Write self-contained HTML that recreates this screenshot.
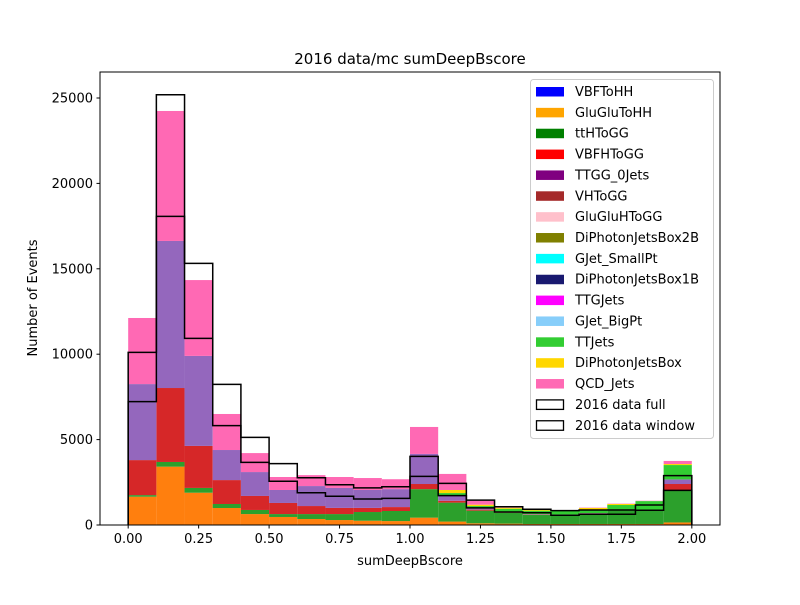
<!DOCTYPE html>
<html><head><meta charset="utf-8"><style>
body{margin:0;background:#fff;}
svg text{font-family:"DejaVu Sans","Liberation Sans",sans-serif;fill:#000;}
</style></head><body>
<svg id="chart" width="800" height="600" viewBox="0 0 800 600" xmlns="http://www.w3.org/2000/svg">
<rect width="800" height="600" fill="#fff"/>
<g id="stack"></g>
<g id="datalines"></g>
<rect x="100" y="72" width="620" height="453" fill="none" stroke="#000" stroke-width="1"/>
<g id="xticks"></g>
<g id="yticks"></g>
<text x="410" y="64" font-size="15" text-anchor="middle">2016 data/mc sumDeepBscore</text>
<text x="410" y="565" font-size="13" text-anchor="middle">sumDeepBscore</text>
<text x="37" y="298" font-size="13" text-anchor="middle" transform="rotate(-90 37 298)">Number of Events</text>
<g id="legend">
<rect x="530.5" y="79.5" width="183" height="359" rx="3" fill="#fff" fill-opacity="0.8" stroke="#ccc"/>
</g>
</svg>
<script>
const binEdgesStart = 0, binWidth = 0.1;
const orangeVals = [1657,3415,1890,995,640,470,350,290,250,230,430,200,100,80,60,60,60,60,60,150];
const greenVals  = [93,275,280,235,240,170,290,350,510,590,1670,1110,740,640,540,485,620,820,820,1860];
const redVals    = [2050,4330,2460,1400,820,650,470,360,240,230,300,110,60,20,20,55,10,10,10,390];
const purpleVals = [4450,8610,5270,1760,1400,760,1170,1170,1050,1050,1760,300,110,20,20,20,10,10,10,270];
const limeVals   = [0,0,0,0,0,0,0,0,0,0,0,150,100,190,200,200,200,270,500,840];
const goldVals   = [0,0,0,0,0,0,0,0,0,0,0,180,80,60,40,30,100,60,0,60];
const pinkVals   = [3870,7610,4440,2110,1110,760,640,640,700,580,1580,940,230,40,20,20,20,20,20,180];
const dataWindow = [7220,18070,10930,5820,3670,2560,1890,1680,1520,1560,2850,1720,1000,760,720,570,630,630,860,2030];
const dataFull   = [10110,25190,15320,8230,5130,3590,2770,2360,2170,2240,4020,2440,1460,1070,920,840,880,880,1170,2890];
const xTicks = [0,0.25,0.5,0.75,1.0,1.25,1.5,1.75,2.0];
const xTickLabels = ["0.00","0.25","0.50","0.75","1.00","1.25","1.50","1.75","2.00"];
const yTicks = [0,5000,10000,15000,20000,25000];
const legendNames = ["VBFToHH","GluGluToHH","ttHToGG","VBFHToGG","TTGG_0Jets","VHToGG","GluGluHToGG","DiPhotonJetsBox2B","GJet_SmallPt","DiPhotonJetsBox1B","TTGJets","GJet_BigPt","TTJets","DiPhotonJetsBox","QCD_Jets"];
const legendColors = ["blue","orange","green","red","purple","brown","pink","olive","cyan","midnightblue","magenta","lightskyblue","limegreen","gold","hotpink"];

const NS="http://www.w3.org/2000/svg";
const X = v => 100 + (v + 0.1) * (620/2.2);
const Y = v => 525 - v * (453/26522);
function mk(tag, attrs, parent){const e=document.createElementNS(NS,tag);for(const k in attrs)e.setAttribute(k,attrs[k]);parent.appendChild(e);return e;}

const layers=[[orangeVals,"#ff7f0e","orange"],[greenVals,"#2ca02c","green"],[redVals,"#d62728","red"],[purpleVals,"#9467bd","purple"],[limeVals,"#32cd32","lime"],[goldVals,"#ffd700","gold"],[pinkVals,"#ff69b4","pink"]];
const stack=document.getElementById('stack');
const base=new Array(orangeVals.length).fill(0);
layers.forEach(([vals,col,nm])=>{
  vals.forEach((v,i)=>{
    if(v<=0)return;
    const x0=X(binEdgesStart+i*binWidth), x1=X(binEdgesStart+(i+1)*binWidth);
    const r=mk('rect',{x:x0,y:Y(base[i]+v),width:x1-x0,height:Y(base[i])-Y(base[i]+v),fill:col},stack);
    
    
    base[i]+=v;
  });
});
const dl=document.getElementById('datalines');
[[dataFull,'data-full-step'],[dataWindow,'data-window-step']].forEach(([vals,nm])=>{
  let d='M'+X(0)+' '+Y(0);
  vals.forEach((v,i)=>{d+=' L'+X(i*binWidth)+' '+Y(v)+' L'+X((i+1)*binWidth)+' '+Y(v);});
  d+=' L'+X(vals.length*binWidth)+' '+Y(0);
  const p=mk('path',{d:d,fill:'none',stroke:'#000','stroke-width':1.5},dl);
  
  
});
const xg=document.getElementById('xticks');
xTicks.forEach((t,i)=>{
  mk('line',{x1:X(t),x2:X(t),y1:525,y2:528.5,stroke:'#000'},xg);
  const tx=mk('text',{x:X(t),y:543,'font-size':13,'text-anchor':'middle'},xg);
  tx.textContent=xTickLabels[i];
  
  
});
const yg=document.getElementById('yticks');
yTicks.forEach(t=>{
  mk('line',{x1:96.5,x2:100,y1:Y(t),y2:Y(t),stroke:'#000'},yg);
  const tx=mk('text',{x:93,y:Y(t)+4.5,'font-size':13,'text-anchor':'end'},yg);
  tx.textContent=String(t);
  
  
});
const lg=document.getElementById('legend');
const step=20.86;
legendNames.forEach((n,i)=>{
  const cy=91.5+i*step;
  const r=mk('rect',{x:536,y:cy-4.5,width:28,height:9.5,fill:legendColors[i]},lg);
  
  
  const t=mk('text',{x:575,y:cy+4.5,'font-size':13},lg);
  t.textContent=n;
  
  
});
["2016 data full","2016 data window"].forEach((n,j)=>{
  const cy=91.5+(15+j)*step;
  const r=mk('rect',{x:536.5,y:cy-4.5,width:27,height:9.5,fill:'#fff',stroke:'#000','stroke-width':1.3},lg);
  
  
  const t=mk('text',{x:575,y:cy+4.5,'font-size':13},lg);
  t.textContent=n;
  
  
});
</script>
</body></html>
